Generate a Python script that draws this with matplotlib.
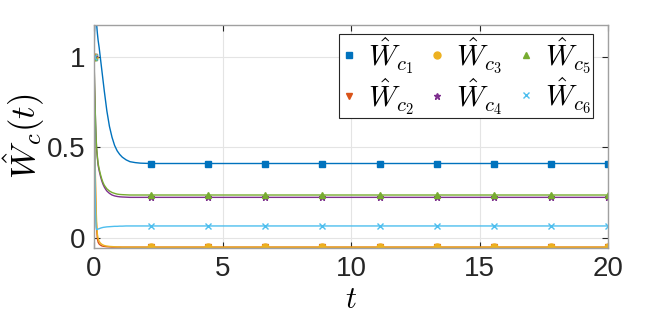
import matplotlib
matplotlib.use("Agg")
import matplotlib.pyplot as plt
from matplotlib.lines import Line2D

plt.rcParams['font.family'] = ['Liberation Sans', 'DejaVu Sans']
plt.rcParams['mathtext.fontset'] = 'cm'

# sample times (transient + marker instants)
t = [0, 0.02, 0.04, 0.06, 0.08, 0.1, 0.13, 0.16, 0.2, 0.25, 0.3, 0.35, 0.4, 0.45,
     0.5, 0.6, 0.7, 0.8, 0.9, 1.0, 1.1, 1.25, 1.4, 1.6, 1.8, 2.0,
     2.222, 4.444, 6.667, 8.889, 11.111, 13.333, 15.556, 17.778, 20.0]

w1 = [1.0, 1.14, 1.22, 1.25, 1.23, 1.18, 1.13, 1.09, 1.05, 0.99, 0.93, 0.87, 0.81, 0.755,
      0.70, 0.615, 0.555, 0.51, 0.48, 0.46, 0.445, 0.43, 0.42, 0.415, 0.412, 0.411,
      0.41, 0.41, 0.41, 0.41, 0.41, 0.41, 0.41, 0.41, 0.41]
w2 = [1.0, 0.68, 0.42, 0.24, 0.12, 0.05, -0.005, -0.025, -0.035, -0.041, -0.045, -0.047, -0.048, -0.049,
      -0.05, -0.051, -0.052, -0.052, -0.052, -0.052, -0.052, -0.052, -0.052, -0.052, -0.052, -0.052,
      -0.052, -0.052, -0.052, -0.052, -0.052, -0.052, -0.052, -0.052, -0.052]
w3 = [1.0, 0.72, 0.47, 0.29, 0.17, 0.09, 0.02, -0.005, -0.02, -0.03, -0.036, -0.04, -0.043, -0.045,
      -0.046, -0.048, -0.049, -0.05, -0.051, -0.051, -0.052, -0.052, -0.052, -0.052, -0.052, -0.052,
      -0.052, -0.052, -0.052, -0.052, -0.052, -0.052, -0.052, -0.052, -0.052]
w4 = [1.0, 0.85, 0.73, 0.63, 0.55, 0.49, 0.44, 0.40, 0.37, 0.34, 0.315, 0.295, 0.28, 0.268,
      0.258, 0.245, 0.236, 0.231, 0.228, 0.226, 0.225, 0.224, 0.223, 0.223, 0.223, 0.223,
      0.223, 0.223, 0.223, 0.223, 0.223, 0.223, 0.223, 0.223, 0.223]
w5 = [1.0, 0.86, 0.74, 0.64, 0.56, 0.50, 0.45, 0.41, 0.38, 0.35, 0.325, 0.305, 0.29, 0.28,
      0.27, 0.258, 0.25, 0.245, 0.241, 0.239, 0.238, 0.237, 0.236, 0.236, 0.236, 0.236,
      0.236, 0.236, 0.236, 0.236, 0.236, 0.236, 0.236, 0.236, 0.236]
w6 = [1.0, 0.6, 0.3, 0.13, 0.06, 0.045, 0.046, 0.048, 0.05, 0.053, 0.055, 0.057, 0.058, 0.059,
      0.06, 0.061, 0.062, 0.063, 0.063, 0.064, 0.064, 0.065, 0.065, 0.065, 0.065, 0.065,
      0.065, 0.065, 0.065, 0.065, 0.065, 0.065, 0.065, 0.065, 0.065]

series = [w1, w2, w3, w4, w5, w6]
labels = [r'$\hat{W}_{c_%d}$' % i for i in range(1, 7)]
colors = ['#0072BD', '#D95319', '#EDB120', '#7E2F8E', '#77AC30', '#4DBEEE']
markers = ['s', 'v', 'o', '*', '^', 'x']
msizes = [5, 5, 5, 5, 5, 4]
mark_idx = [0] + list(range(26, 35))

fig = plt.figure(figsize=(6.64, 3.32), dpi=100)
ax = fig.add_axes([0.1416, 0.2545, 0.7741, 0.6702])

for y, c, m, ms in zip(series, colors, markers, msizes):
    ax.plot(t, y, color=c, lw=1.0, marker=m, markersize=ms, markevery=mark_idx,
            markeredgewidth=1.0)

ax.set_xlim(0, 20)
ax.set_ylim(-0.054, 1.175)
ax.set_xticks([0, 5, 10, 15, 20])
ax.set_yticks([0, 0.5, 1])
ax.set_yticklabels(['0', '0.5', '1'])
ax.grid(True, color='#e4e4e4', lw=0.8)
ax.set_axisbelow(True)
for s in ax.spines.values():
    s.set_color('#a0a0a0')
    s.set_linewidth(1.0)
ax.tick_params(direction='in', top=True, right=True, labelsize=20, colors='#262626',
               length=4, width=0.8, pad=6)
ax.set_xlabel(r'$t$', fontsize=22, labelpad=2)
ax.set_ylabel(r'$\hat{W}_c(t)$', fontsize=25, labelpad=0)

handles = [Line2D([], [], color=c, marker=m, linestyle='none', markersize=ms)
           for c, m, ms in zip(colors, markers, msizes)]
leg = ax.legend(handles, labels, ncol=3, loc='upper right', fontsize=21,
                bbox_to_anchor=(0.97, 0.96), fancybox=False, framealpha=1,
                edgecolor='#262626', handlelength=0.6, handletextpad=0.35,
                columnspacing=0.5, labelspacing=0.0, borderpad=0.05,
                borderaxespad=0.0)
leg.get_frame().set_linewidth(0.8)

fig.savefig('out.png', dpi=100)
